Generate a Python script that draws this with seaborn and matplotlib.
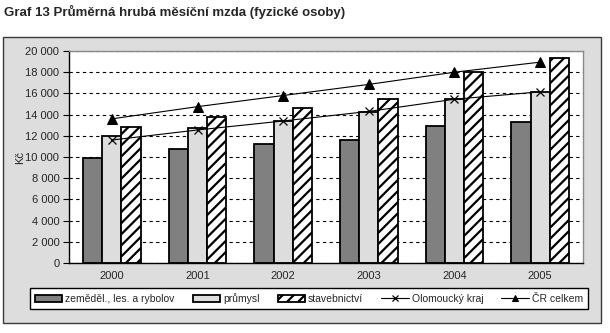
import numpy as np
import pandas as pd
import matplotlib
matplotlib.use("Agg")
import matplotlib.pyplot as plt
from matplotlib.patches import Rectangle
import seaborn as sns

# Average gross monthly wage (CZK) by sector, Olomouc region, plus totals
years = ["2000", "2001", "2002", "2003", "2004", "2005"]
sectors = ["zeměděl., les. a rybolov", "průmysl", "stavebnictví"]
zemedelstvi = [9900, 10750, 11200, 11600, 12900, 13300]
prumysl = [11950, 12700, 13350, 14200, 15450, 16100]
stavebnictvi = [12800, 13750, 14600, 15450, 18000, 19300]
olomoucky_kraj = [11600, 12550, 13400, 14300, 15450, 16150]
cr_celkem = [13600, 14750, 15800, 16850, 18000, 18950]
line_labels = ["Olomoucký kraj", "ČR celkem"]
yticks = list(range(0, 20001, 2000))

sns.set_theme(style="white")
plt.rcParams["font.family"] = ["Liberation Sans", "DejaVu Sans"]
plt.rcParams["hatch.linewidth"] = 1.6

df = pd.DataFrame({
    "rok": years * 3,
    "odvětví": np.repeat(sectors, len(years)),
    "mzda": zemedelstvi + prumysl + stavebnictvi,
})

W, H = 610, 333
fig = plt.figure(figsize=(W / 100, H / 100), dpi=100)
fig.patch.set_facecolor("white")

# grey chart frame behind the axes
fig.patches.append(Rectangle((3 / W, 10 / H), 598 / W, 286 / H,
                             transform=fig.transFigure, facecolor="#DDDDDD",
                             edgecolor="#3A3A3A", linewidth=1.0, zorder=-5))

ax = fig.add_axes([69 / W, 70 / H, 514 / W, 212 / H])
ax.set_facecolor("white")

palette = {sectors[0]: "#808080", sectors[1]: "#DDDDDD", sectors[2]: "white"}
sns.barplot(data=df, x="rok", y="mzda", hue="odvětví", hue_order=sectors,
            order=years, palette=palette, width=0.67, gap=0,
            edgecolor="black", linewidth=1.3, saturation=1, ax=ax)

for bar in ax.containers[2]:
    bar.set_hatch("///")

xpos = np.arange(len(years))
sns.lineplot(x=xpos, y=olomoucky_kraj, color="black", linewidth=0.8,
             marker="x", markersize=6, markeredgewidth=0.9,
             markeredgecolor="black", label=line_labels[0], ax=ax)
sns.lineplot(x=xpos, y=cr_celkem, color="black", linewidth=0.8,
             marker="^", markersize=6.5, markerfacecolor="black",
             markeredgecolor="black", label=line_labels[1], ax=ax)

ax.set_xlim(-0.5, len(years) - 0.5)
ax.set_ylim(0, 20000)
ax.set_yticks(yticks)
ax.set_yticklabels([f"{v:,}".replace(",", " ") for v in yticks])
ax.yaxis.grid(True, linestyle=(0, (3, 3)), color="black", linewidth=0.8)
ax.set_axisbelow(True)

ax.tick_params(axis="y", direction="out", length=4, width=0.8, color="black",
               labelsize=8, pad=3, left=True)
ax.tick_params(axis="x", length=0, labelsize=8, pad=6)
ax.set_xlabel("")
ax.set_ylabel("Kč", fontsize=8, labelpad=0)

for s in ["left", "bottom"]:
    ax.spines[s].set_color("black")
    ax.spines[s].set_linewidth(1.0)
for s in ["top", "right"]:
    ax.spines[s].set_color("#8A8A8A")
    ax.spines[s].set_linewidth(1.0)

handles, labels = ax.get_legend_handles_labels()
ax.get_legend().remove()
for h, lab in zip(handles, labels):
    if lab == sectors[2]:
        h.set_hatch("///")
leg = fig.legend(handles, labels, ncol=5, mode="expand",
                 bbox_to_anchor=(30 / W, 22 / H, 558 / W, 25 / H),
                 loc="center", fontsize=7.5, frameon=True, fancybox=False,
                 edgecolor="black", facecolor="white", framealpha=1,
                 handlelength=2.6, handleheight=0.6, handletextpad=0.3,
                 columnspacing=1.0, borderpad=0.5, borderaxespad=0,
                 markerscale=0.7)
leg.get_frame().set_linewidth(1.0)

fig.text(4 / W, 1 - 12 / H, "Graf 13 Průměrná hrubá měsíční mzda (fyzické osoby)",
         fontsize=9.5, fontweight="bold", va="center", ha="left")

fig.savefig("out.png", dpi=100, facecolor="white")
